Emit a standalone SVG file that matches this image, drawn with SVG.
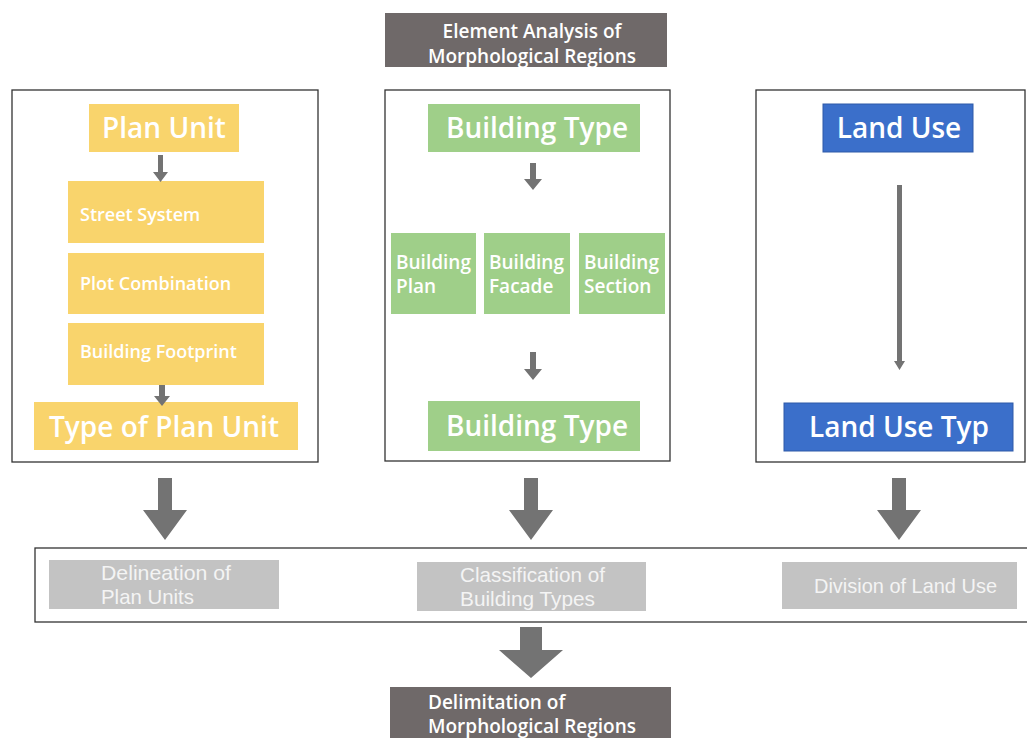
<svg xmlns="http://www.w3.org/2000/svg" width="1027" height="738" viewBox="0 0 1027 738">
<style>
.frame{fill:#fff;stroke:#333;stroke-width:1.3}
.dark{fill:#6f6969}
.yel{fill:#f9d46c}
.grn{fill:#9fcf89}
.blu{fill:#3b6fca;stroke:#2f5aa8;stroke-width:1}
.gry{fill:#c3c3c3}
.arr{fill:#737373}
text{font-family:"Open Sans","Noto Sans","Liberation Sans",sans-serif;fill:#fff;font-weight:600}
.big{font-size:28px}
.mid{font-size:18px}
.hd{font-size:19px}
.cond{font-family:"Liberation Sans",sans-serif;font-size:21px;fill:#f4f4f4;font-weight:normal}
</style>
<rect width="1027" height="738" fill="#fff"/>
<g id="element-analysis">
<rect class="dark" x="385" y="13" width="282" height="54"/>
<text class="hd" x="532" y="38" text-anchor="middle">Element Analysis of</text>
<text class="hd" x="532" y="63" text-anchor="middle" font-size="20">Morphological Regions</text>
</g>
<g id="plan-panel">
<rect class="frame" x="12" y="90" width="306" height="372"/>
</g>
<g id="building-panel">
<rect class="frame" x="385" y="90" width="285" height="371"/>
</g>
<g id="landuse-panel">
<rect class="frame" x="756" y="90" width="269" height="372"/>
</g>
<g id="plan-unit">
<rect class="yel" x="89" y="104" width="150" height="48"/>
<text class="big" x="164" y="138" text-anchor="middle">Plan Unit</text>
</g>
<g id="street-system">
<rect class="yel" x="68" y="181" width="196" height="62"/>
<text class="mid" x="80" y="221">Street System</text>
</g>
<g id="plot-combination">
<rect class="yel" x="68" y="253" width="196" height="61"/>
<text class="mid" x="80" y="290">Plot Combination</text>
</g>
<g id="building-footprint">
<rect class="yel" x="68" y="323" width="196" height="62"/>
<text class="mid" x="80" y="358">Building Footprint</text>
</g>
<g id="type-plan-unit">
<rect class="yel" x="34" y="402" width="264" height="48"/>
<text class="big" x="164" y="437" text-anchor="middle" font-size="31">Type of Plan Unit</text>
</g>
<g id="building-type-top">
<rect class="grn" x="428" y="104" width="212" height="48"/>
<text class="big" x="537" y="138" text-anchor="middle" font-size="29.5">Building Type</text>
</g>
<g id="building-plan">
<rect class="grn" x="391" y="233" width="85" height="81"/>
<text class="hd" x="396" y="269">Building</text>
<text class="hd" x="396" y="293">Plan</text>
</g>
<g id="building-facade">
<rect class="grn" x="484" y="233" width="86" height="81"/>
<text class="hd" x="489" y="269">Building</text>
<text class="hd" x="489" y="293">Facade</text>
</g>
<g id="building-section">
<rect class="grn" x="579" y="233" width="86" height="81"/>
<text class="hd" x="584" y="269">Building</text>
<text class="hd" x="584" y="293">Section</text>
</g>
<g id="building-type-bottom">
<rect class="grn" x="428" y="401" width="212" height="50"/>
<text class="big" x="537" y="436" text-anchor="middle" font-size="29.5">Building Type</text>
</g>
<g id="land-use">
<rect class="blu" x="823" y="104" width="150" height="48"/>
<text class="big" x="899" y="138" text-anchor="middle">Land Use</text>
</g>
<g id="land-use-type">
<rect class="blu" x="784" y="403" width="229" height="48"/>
<text class="big" x="899" y="437" text-anchor="middle" font-size="29">Land Use Typ</text>
</g>
<g id="results-panel">
<rect class="frame" x="35" y="548" width="1000" height="74"/>
</g>
<g id="delineation">
<rect class="gry" x="49" y="560" width="230" height="49"/>
<text class="cond" x="101" y="580" textLength="130" lengthAdjust="spacingAndGlyphs">Delineation of</text>
<text class="cond" x="101" y="604" textLength="93" lengthAdjust="spacingAndGlyphs">Plan Units</text>
</g>
<g id="classification">
<rect class="gry" x="417" y="562" width="229" height="49"/>
<text class="cond" x="460" y="582" textLength="145" lengthAdjust="spacingAndGlyphs">Classification of</text>
<text class="cond" x="460" y="606" textLength="135" lengthAdjust="spacingAndGlyphs">Building Types</text>
</g>
<g id="division">
<rect class="gry" x="782" y="562" width="235" height="47"/>
<text class="cond" x="814" y="593" textLength="183" lengthAdjust="spacingAndGlyphs">Division of Land Use</text>
</g>
<g id="delimitation">
<rect class="dark" x="390" y="687" width="281" height="55"/>
<text class="hd" x="428" y="709" font-size="20.5">Delimitation of</text>
<text class="hd" x="428" y="733" font-size="20.5">Morphological Regions</text>
</g>
<g id="connectors">
<path class="arr" d="M158 155h5v17h5l-7.5 10l-7.5-10h5z"/>
<path class="arr" d="M159 385h6v11h5l-8 10l-8-10h5z"/>
<path class="arr" d="M530 163h6v16h6l-9 11l-9-11h6z"/>
<path class="arr" d="M530 352h6v17h6l-9 11l-9-11h6z"/>
<path class="arr" d="M897 185h5v176h3l-5.5 9l-5.5-9h3z"/>
<path class="arr" d="M158 478h14v32h15l-22 30l-22-30h15z"/>
<path class="arr" d="M524 478h14v32h15l-22 30l-22-30h15z"/>
<path class="arr" d="M892 478h14v32h15l-22 30l-22-30h15z"/>
<path class="arr" d="M520 627h22v23h21l-32 28l-32-28h21z"/>
</g>
</svg>
